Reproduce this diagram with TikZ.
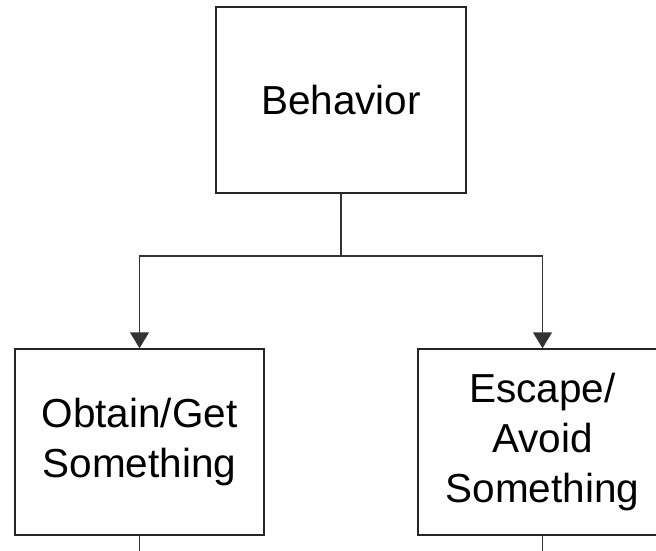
\documentclass[tikz,border=0pt]{standalone}
\usepackage{fontspec}
\setmainfont{Liberation Sans}
\usetikzlibrary{arrows.meta}

\tikzset{
    box/.style={draw=black!85, line width=1.5pt, minimum width=249pt,
        minimum height=186pt, align=center, inner sep=0pt,
        font=\fontsize{40.5}{50}\selectfont},
    link/.style={draw=black!80, line width=1.5pt},
    arr/.style={link, -{Triangle[width=19pt,length=16pt]}}
}

\begin{document}
\begin{tikzpicture}[x=1pt,y=-1pt]
        \useasboundingbox (0,0) rectangle (656,550);
        \clip (0,0) rectangle (656,550);
        % the three boxes
        \node[box, minimum width=250pt] (behavior) at (341,100) {Behavior};
        \node[box] (obtain) at (139.5,442) {Obtain/Get\\Something};
        \node[box] (escape) at (542.5,442) {Escape/\\Avoid\\Something};
        % fork below the top box
        \coordinate (fork) at (behavior.south |- 0,256);
        \draw[link] (behavior.south) -- (fork);
        \draw[arr] (fork) -| (obtain.north);
        \draw[arr] (fork) -| (escape.north);
        % lines leaving the bottom edge
        \coordinate (obtainout) at (obtain.south |- 0,556);
        \coordinate (escapeout) at (escape.south |- 0,556);
        \draw[link] (obtain.south) -- (obtainout);
        \draw[link] (escape.south) -- (escapeout);
\end{tikzpicture}
\end{document}
